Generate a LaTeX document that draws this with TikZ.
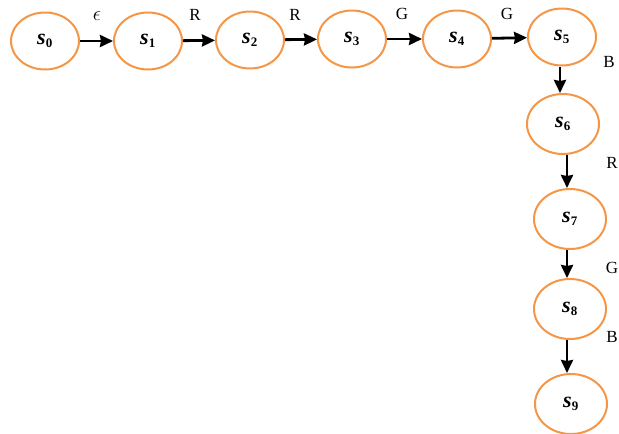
\documentclass[tikz,border=0pt]{standalone}
\usepackage{fontspec}
\setmainfont{Liberation Serif}
\usetikzlibrary{shapes.geometric,arrows.meta}
\definecolor{stateorange}{RGB}{245,150,70}
\tikzset{
  state/.style={ellipse,draw=stateorange,line width=2pt,minimum width=68pt,minimum height=57pt,inner sep=0pt,font=\fontsize{22}{22}\selectfont\bfseries\itshape},
  hstate/.style={state},
  vstate/.style={state,minimum width=72pt,minimum height=60pt},
  arr/.style={line width=2.8pt,-{Stealth[length=13pt,width=12pt,inset=1pt]}},
  lbl/.style={font=\fontsize{17}{17}\selectfont,inner sep=0pt}
}
\newcommand{\st}[1]{s\textsubscript{\normalfont\bfseries\fontsize{13}{13}\selectfont #1}}
\begin{document}
\begin{tikzpicture}[x=1pt,y=-1pt]
\useasboundingbox (0,0) rectangle (619,434);
\clip (0,0) rectangle (619,434);
\node[hstate] (s0) at (45,41) {\st{0}};
\node[hstate] (s1) at (148,41) {\st{1}};
\node[hstate] (s2) at (250,40) {\st{2}};
\node[hstate] (s3) at (352,39) {\st{3}};
\node[hstate] (s4) at (457,39) {\st{4}};
\node[hstate] (s5) at (562,37) {\st{5}};
\node[vstate] (s6) at (563,124) {\st{6}};
\node[vstate] (s7) at (570,219) {\st{7}};
\node[vstate] (s8) at (570,309) {\st{8}};
\node[vstate] (s9) at (571,404) {\st{9}};
\draw[arr] (s0) -- (s1);
\draw[arr] (s1) -- (s2);
\draw[arr] (s2) -- (s3);
\draw[arr] (s3) -- (s4);
\draw[arr] (s4) -- (s5);
\draw[arr] ([xshift=-2pt]s5.south) -- ([xshift=-3pt]s6.north);
\draw[arr] ([xshift=4pt]s6.south) -- ([xshift=-3pt]s7.north);
\draw[arr] ([xshift=-3pt]s7.south) -- ([xshift=-3pt]s8.north);
\draw[arr] ([xshift=-3pt]s8.south) -- ([xshift=-4pt]s9.north);
\node[lbl] (l1) at (97,16) {\fontsize{20}{20}\selectfont$\epsilon$};
\node[lbl] (l2) at (195,15) {R};
\node[lbl] (l3) at (295,15) {R};
\node[lbl] (l4) at (402,14) {G};
\node[lbl] (l5) at (507,14) {G};
\node[lbl] (l6) at (609,62) {B};
\node[lbl] (l7) at (612,163) {R};
\node[lbl] (l8) at (612,268) {G};
\node[lbl] (l9) at (612,337) {B};
\end{tikzpicture}
\end{document}
